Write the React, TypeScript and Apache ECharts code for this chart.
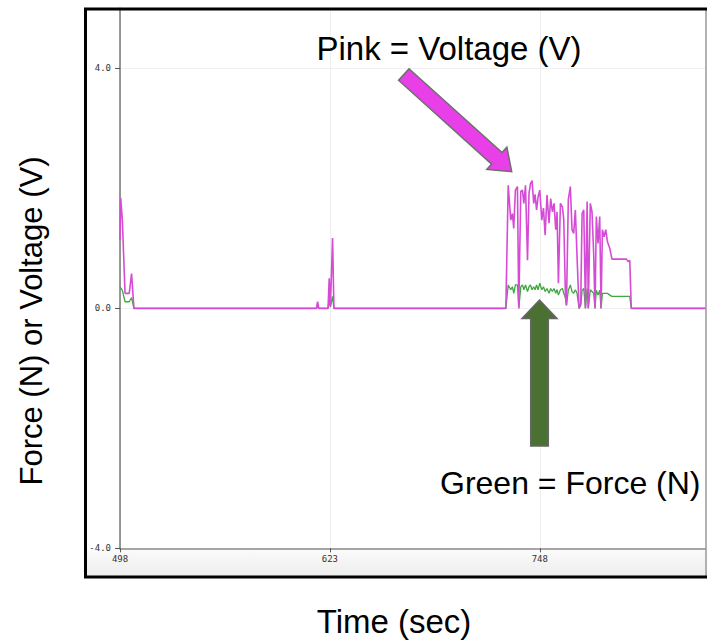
import React, { useEffect, useRef } from "react";
import * as echarts from "echarts";

// Time stamps (sec)
const timeSec = [
  498.0, 498.4, 499.4, 501.0, 503.5, 504.9, 506.3,
  615.0, 615.7, 616.4, 621.9, 622.6, 623.3, 624.6, 625.4,
  727.8, 729.2, 730.7, 731.7, 732.5, 733.5, 734.7, 735.5, 736.7, 737.7,
  738.5, 739.5, 740.7, 741.6, 742.5, 743.4, 744.4, 745.2, 746.1, 747.0,
  748.0, 749.2, 750.2, 751.2, 752.3, 753.5, 754.5, 755.5, 756.5, 757.5,
  758.3, 759.1, 760.3, 761.5, 762.3, 763.3, 763.9, 765.0, 766.2, 767.2,
  768.2, 769.2, 770.2, 771.4, 772.4, 773.2, 774.2, 775.2, 776.2, 776.9,
  778.1, 779.1, 780.1, 780.9, 781.7, 782.7, 783.7, 784.5, 785.3, 786.3,
  787.3, 788.3, 789.7, 791.0, 792.5, 794.5, 796.5, 798.5, 799.6, 800.6,
  801.6, 802.5, 847.0,
];

// Pink = Voltage (V)
const voltage = [
  1.14, 1.84, 1.47, 0.25, 0.25, 0.58, 0.0,
  0.0, 0.11, 0.0, 0.0, 0.5, 0.03, 1.17, 0.0,
  0.0, 2.05, 1.47, 1.58, 1.33, 1.97, 2.03, 0.0, 1.95, 1.97,
  1.75, 2.05, 0.8, 1.92, 2.08, 2.13, 1.75, 1.9, 1.64, 1.86,
  1.97, 1.47, 1.67, 1.22, 1.89, 1.42, 1.83, 1.61, 1.75, 1.31,
  1.61, 0.42, 1.75, 1.69, 1.47, 0.19, 0.05, 1.81, 2.03, 1.31,
  1.25, 1.64, 0.86, 0.0, 0.08, 1.58, 1.64, 0.0, 1.78, 0.0,
  1.75, 1.61, 0.92, 0.0, 1.53, 1.08, 1.53, 0.0, 1.31, 1.19,
  1.31, 1.11, 1.0, 0.82, 0.82, 0.82, 0.82, 0.82, 0.82, 0.78,
  0.8, 0.0, 0.0,
];

// Green = Force (N)
const force = [
  0.36, 0.34, 0.3, 0.11, 0.11, 0.18, 0.0,
  0.0, 0.03, 0.0, 0.0, 0.15, 0.02, 0.2, 0.0,
  0.0, 0.39, 0.31, 0.36, 0.25, 0.39, 0.39, 0.0, 0.36, 0.39,
  0.31, 0.39, 0.28, 0.36, 0.39, 0.31, 0.36, 0.31, 0.39, 0.31,
  0.42, 0.31, 0.36, 0.28, 0.33, 0.25, 0.33, 0.28, 0.33, 0.25,
  0.31, 0.22, 0.31, 0.33, 0.25, 0.17, 0.05, 0.3, 0.39, 0.28,
  0.25, 0.31, 0.25, 0.0, 0.05, 0.3, 0.33, 0.0, 0.33, 0.0,
  0.31, 0.28, 0.25, 0.0, 0.3, 0.22, 0.3, 0.0, 0.25, 0.25,
  0.25, 0.25, 0.22, 0.2, 0.2, 0.2, 0.2, 0.2, 0.2, 0.2,
  0.2, 0.0, 0.0,
];

const xTickValues = [498, 623, 748];
const yTickValues = [-4, 0, 4];

function arrowPoints(
  tail: number[],
  tip: number[],
  shaftHalf: number,
  headLen: number,
  headHalf: number
) {
  const dx = tip[0] - tail[0];
  const dy = tip[1] - tail[1];
  const len = Math.sqrt(dx * dx + dy * dy);
  const ux = dx / len;
  const uy = dy / len;
  const nx = -uy;
  const ny = ux;
  const bx = tip[0] - ux * headLen;
  const by = tip[1] - uy * headLen;
  return [
    [tail[0] + nx * shaftHalf, tail[1] + ny * shaftHalf],
    [bx + nx * shaftHalf, by + ny * shaftHalf],
    [bx + nx * headHalf, by + ny * headHalf],
    [tip[0], tip[1]],
    [bx - nx * headHalf, by - ny * headHalf],
    [bx - nx * shaftHalf, by - ny * shaftHalf],
    [tail[0] - nx * shaftHalf, tail[1] - ny * shaftHalf],
  ];
}

export default function App() {
  const ref = useRef<HTMLDivElement>(null);

  useEffect(() => {
    if (!ref.current) return;
    const chart = echarts.init(ref.current, undefined, { renderer: "svg" });
    const vData = timeSec.map((t, i) => [t, voltage[i]]);
    const fData = timeSec.map((t, i) => [t, force[i]]);
    const sans = "'Liberation Sans', Arial, Helvetica, sans-serif";
    const mono = "'DejaVu Sans Mono', monospace";

    chart.setOption({
      animation: false,
      backgroundColor: "#ffffff",
      grid: { left: 120, right: 1, top: 8.33, bottom: 93.67 },
      xAxis: {
        type: "value",
        min: 498,
        max: 847,
        axisLine: { show: true, onZero: false, lineStyle: { color: "#8a8a8a", width: 1.5 } },
        axisTick: { show: true, length: 4, customValues: xTickValues, lineStyle: { color: "#555" } },
        axisLabel: {
          customValues: xTickValues,
          color: "#333",
          fontFamily: mono,
          fontSize: 9,
          margin: 6,
        },
        splitLine: { show: true, lineStyle: { color: "#eeeeee", width: 1 } },
      },
      yAxis: {
        type: "value",
        min: -4,
        max: 5,
        axisLine: { show: true, onZero: false, lineStyle: { color: "#777", width: 1.5 } },
        axisTick: { show: true, length: 5, customValues: yTickValues, lineStyle: { color: "#555" } },
        axisLabel: {
          customValues: yTickValues,
          color: "#333",
          fontFamily: mono,
          fontSize: 9,
          margin: 9,
          formatter: (v: number) => v.toFixed(1),
        },
        splitLine: { show: true, lineStyle: { color: "#f0f0f0", width: 1 } },
      },
      series: [
        {
          name: "Force (N)",
          type: "line",
          data: fData,
          showSymbol: false,
          lineStyle: { color: "#3fa83f", width: 1.3 },
          z: 3,
        },
        {
          name: "Voltage (V)",
          type: "line",
          data: vData,
          showSymbol: false,
          lineStyle: { color: "#d64bd6", width: 1.6 },
          z: 4,
        },
      ],
      graphic: [
        {
          type: "rect",
          z: -10,
          shape: { x: 86, y: 549, width: 621, height: 27 },
          style: {
            fill: new echarts.graphic.LinearGradient(0, 0, 0, 1, [
              { offset: 0, color: "#fbfbfb" },
              { offset: 1, color: "#ededed" },
            ]),
          },
        },
        {
          type: "line",
          z: 50,
          shape: { x1: 706, y1: 9, x2: 706, y2: 577 },
          style: { stroke: "#9a9a9a", lineWidth: 1.5 },
        },
        {
          type: "rect",
          z: 60,
          shape: { x: 85.5, y: 9, width: 640, height: 568 },
          style: { fill: "none", stroke: "#000", lineWidth: 3 },
        },
        {
          type: "polygon",
          z: 70,
          shape: { points: arrowPoints([403.8, 74.5], [511.7, 171.7], 7.8, 20, 15) },
          style: { fill: "#e83fe9", stroke: "#6e6e6e", lineWidth: 1.5 },
        },
        {
          type: "polygon",
          z: 70,
          shape: { points: arrowPoints([539.5, 446], [539.5, 300], 8.8, 18.5, 17.5) },
          style: { fill: "#4b7132", stroke: "#666", lineWidth: 1.5 },
        },
        {
          type: "text",
          z: 80,
          x: 449,
          y: 48,
          style: {
            text: "Pink = Voltage (V)",
            fontFamily: sans,
            fontSize: 33,
            fill: "#000",
            align: "center",
            verticalAlign: "middle",
          },
        },
        {
          type: "text",
          z: 80,
          x: 440,
          y: 483,
          style: {
            text: "Green = Force (N)",
            fontFamily: sans,
            fontSize: 32,
            fill: "#000",
            align: "left",
            verticalAlign: "middle",
          },
        },
        {
          type: "text",
          z: 80,
          x: 394,
          y: 621,
          style: {
            text: "Time (sec)",
            fontFamily: sans,
            fontSize: 33,
            fill: "#000",
            align: "center",
            verticalAlign: "middle",
          },
        },
        {
          type: "text",
          z: 80,
          x: 31,
          y: 321,
          rotation: Math.PI / 2,
          style: {
            text: "Force (N) or Voltage (V)",
            fontFamily: sans,
            fontSize: 31,
            fill: "#000",
            align: "center",
            verticalAlign: "middle",
          },
        },
      ],
    });

    return () => chart.dispose();
  }, []);

  return (
    <div
      ref={ref}
      style={{ position: "fixed", left: 0, top: 0, width: 707, height: 642 }}
    />
  );
}
